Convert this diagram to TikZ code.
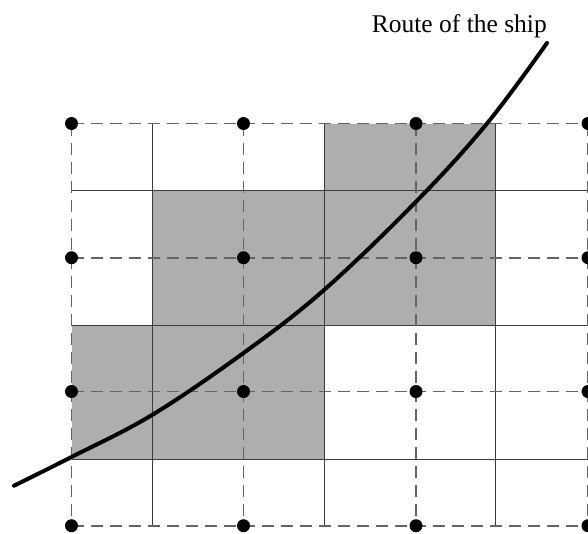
\documentclass[tikz,border=0pt]{standalone}
\usepackage{fontspec}
\setmainfont{Liberation Serif}
\definecolor{shade}{HTML}{AEAEAE}
\definecolor{dashgray}{HTML}{646464}
\definecolor{solidgray}{HTML}{3C3C3C}
\begin{document}
\begin{tikzpicture}[x=1pt,y=-1pt,
  shadebox/.style={fill=shade,draw=none},
  solidgrid/.style={draw=solidgray,line width=1pt},
  dashgrid/.style={draw=dashgray,line width=1.7pt,dash pattern=on 12.5pt off 6.5pt},
  gdot/.style={fill=black},
  route/.style={draw=black,line width=4pt,line cap=round,line join=round},
  label/.style={font=\fontsize{25.5}{30}\selectfont,inner sep=0pt}]
\useasboundingbox (0,0) rectangle (588,533);
% shaded cells
\fill[shadebox] (324,123.5) rectangle (495,190.5);
\fill[shadebox] (152,190.5) rectangle (495,325);
\fill[shadebox] (71.5,325) rectangle (324,459);
% solid grid
\foreach \x in {152,324,495} \draw[solidgrid] (\x,123.5) -- (\x,525.7);
\foreach \y in {190.5,325,459} \draw[solidgrid] (71.5,\y) -- (588,\y);
% dashed grid
\foreach \y in {123.5,257.7,391.5,525.7} \draw[dashgrid] (71.5,\y) -- (588,\y);
\foreach \x in {71.5,243.5,416,588} \draw[dashgrid] (\x,123.5) -- (\x,525.7);
% dots
\foreach \x in {71.5,243.5,416,588}
  \foreach \y in {123.5,257.7,391.5,525.7}
    \fill[gdot] (\x,\y) circle (6.5pt);
% route
\draw[route] plot[smooth,tension=0.6] coordinates {(14,485.7) (71.5,457) (152,415) (243.5,353) (324,290) (416,201.7) (487,123.5) (547,43)};
\node[label,anchor=base east] (routelabel) at (547,32) {Route of the ship};
\end{tikzpicture}
\end{document}
